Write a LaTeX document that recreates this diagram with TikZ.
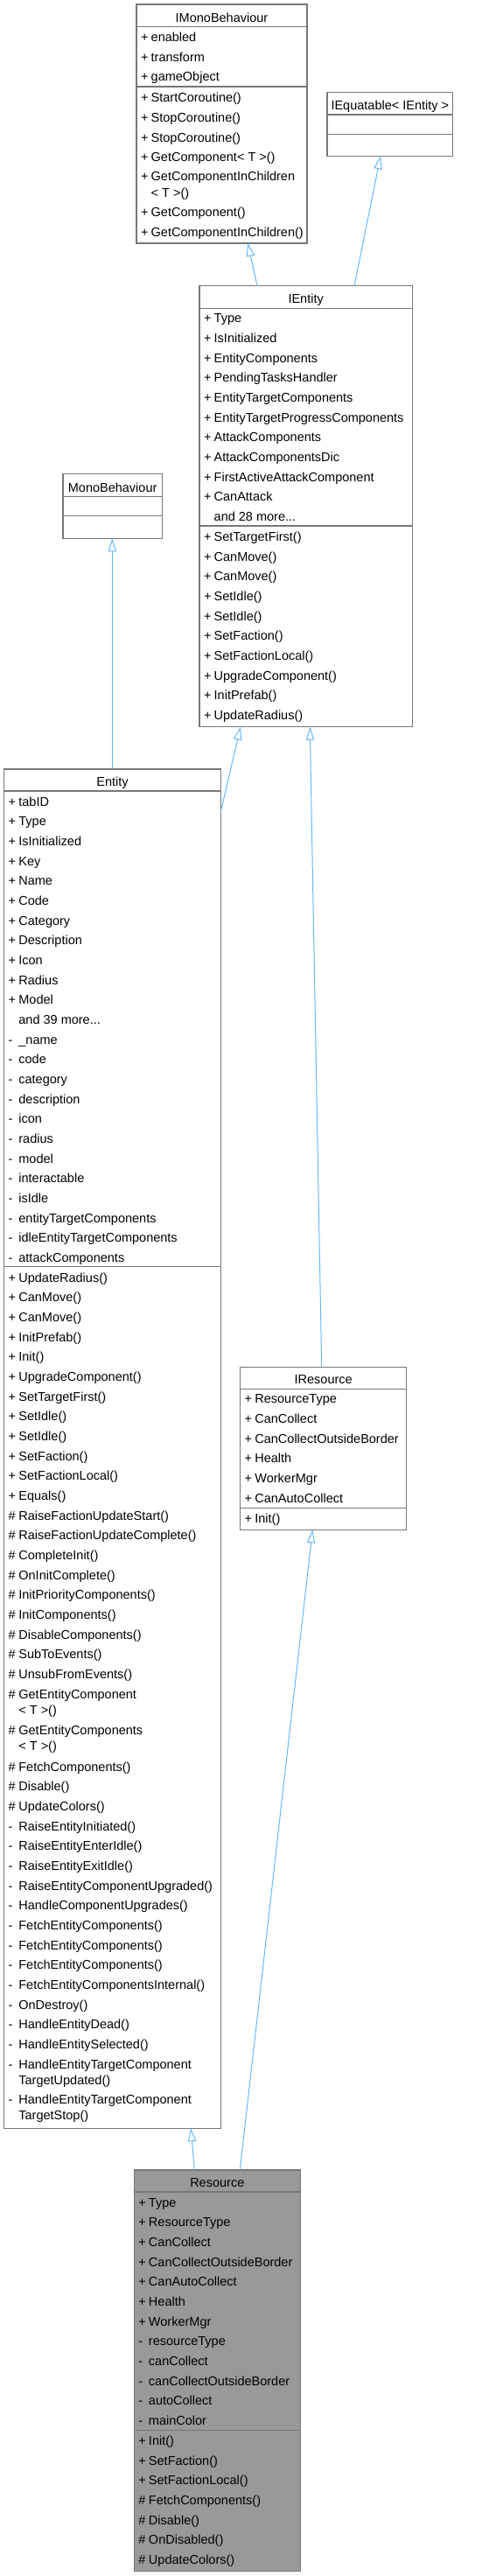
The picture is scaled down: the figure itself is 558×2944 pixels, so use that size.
\documentclass[tikz,border=0pt]{standalone}
\usepackage{fontspec}
\setmainfont{Liberation Sans}
\usetikzlibrary{arrows.meta,calc}
\definecolor{edgeblue}{HTML}{63B8FF}
\definecolor{boxline}{HTML}{777777}
\definecolor{resfill}{HTML}{999999}
\newcounter{rowc}
\newcommand\mrow[4]{\stepcounter{rowc}\node[rowt] (row\therowc) at (#1+5,#2+4.5) {\makebox[11.7pt][l]{#3}#4};}
\newcommand\mtitle[4]{\node[rowt, anchor=base] (#1) at (#2,#3+4.5) {#4};}
\newcommand\mseps[3]{%
  \draw[sepl] ($(#1.north west)+(0,#2)$) -- ($(#1.north east)+(0,#2)$);
  \draw[sepl] ($(#1.north west)+(0,#3)$) -- ($(#1.north east)+(0,#3)$);}
\begin{document}
\begin{tikzpicture}[x=1pt,y=-1pt,
  rowt/.style={anchor=base west, inner sep=0pt, outer sep=0pt, font=\fontsize{14.5pt}{17pt}\selectfont, text=black},
  cls/.style={draw=boxline, line width=1.2pt, fill=white, inner sep=0pt, outer sep=0pt, anchor=north west},
  sepl/.style={draw=boxline, line width=1.2pt},
  inh/.style={draw=edgeblue, line width=1pt, -{Triangle[open, length=15pt, width=9.5pt]}}]
\useasboundingbox (0,0) rectangle (558,2944);

% ---------- boxes ----------
\node[cls, minimum width=195pt, minimum height=273pt] (imono) at (156,5) {};
\mseps{imono}{25.8}{94}
\node[cls, minimum width=143.7pt, minimum height=72.6pt] (iequ) at (374,105.7) {};
\mseps{iequ}{25.3}{47.6}
\node[cls, minimum width=243.3pt, minimum height=504pt] (ient) at (228,326.7) {};
\mseps{ient}{25.6}{274.3}
\node[cls, minimum width=113.3pt, minimum height=73.6pt] (mono) at (72,541.7) {};
\mseps{mono}{25.6}{48}
\node[cls, minimum width=247.6pt, minimum height=1553.3pt] (ent) at (4.7,879) {};
\mseps{ent}{25}{568.7}
\node[cls, minimum width=190pt, minimum height=186pt] (ires) at (274.7,1562.3) {};
\mseps{ires}{25}{161}
\node[cls, fill=resfill, minimum width=190pt, minimum height=458.3pt] (res) at (153.3,2480) {};
\mseps{res}{25}{297.3}

% ---------- IMonoBehaviour ----------
\mtitle{timono}{253.5}{20.7}{IMonoBehaviour}
\mrow{156}{43.3}{+}{enabled}
\mrow{156}{65.8}{+}{transform}
\mrow{156}{88.4}{+}{gameObject}
\mrow{156}{112.3}{+}{StartCoroutine()}
\mrow{156}{134.9}{+}{StopCoroutine()}
\mrow{156}{157.5}{+}{StopCoroutine()}
\mrow{156}{180}{+}{GetComponent< T >()}
\mrow{156}{202.3}{+}{GetComponentInChildren}
\mrow{156}{220.7}{}{< T >()}
\mrow{156}{243.3}{+}{GetComponent()}
\mrow{156}{265.7}{+}{GetComponentInChildren()}

% ---------- IEquatable ----------
\mtitle{tiequ}{445.85}{120.7}{IEquatable< IEntity >}

% ---------- IEntity ----------
\mtitle{tient}{349.65}{341.7}{IEntity}
\mrow{228}{364.3}{+}{Type}
\mrow{228}{387.0}{+}{IsInitialized}
\mrow{228}{409.6}{+}{EntityComponents}
\mrow{228}{432.3}{+}{PendingTasksHandler}
\mrow{228}{455.0}{+}{EntityTargetComponents}
\mrow{228}{477.6}{+}{EntityTargetProgressComponents}
\mrow{228}{500.3}{+}{AttackComponents}
\mrow{228}{523.0}{+}{AttackComponentsDic}
\mrow{228}{545.7}{+}{FirstActiveAttackComponent}
\mrow{228}{568.3}{+}{CanAttack}
\mrow{228}{591.0}{}{and 28 more...}
\mrow{228}{614.0}{+}{SetTargetFirst()}
\mrow{228}{636.7}{+}{CanMove()}
\mrow{228}{659.3}{+}{CanMove()}
\mrow{228}{682.0}{+}{SetIdle()}
\mrow{228}{704.7}{+}{SetIdle()}
\mrow{228}{727.3}{+}{SetFaction()}
\mrow{228}{750.0}{+}{SetFactionLocal()}
\mrow{228}{772.7}{+}{UpgradeComponent()}
\mrow{228}{795.3}{+}{InitPrefab()}
\mrow{228}{818.0}{+}{UpdateRadius()}

% ---------- MonoBehaviour ----------
\mtitle{tmono}{128.65}{557.7}{MonoBehaviour}

% ---------- Entity ----------
\mtitle{tent}{128.5}{893.7}{Entity}
\mrow{4.7}{916.7}{+}{tabID}
\mrow{4.7}{939.4}{+}{Type}
\mrow{4.7}{962.0}{+}{IsInitialized}
\mrow{4.7}{984.7}{+}{Key}
\mrow{4.7}{1007.4}{+}{Name}
\mrow{4.7}{1030.0}{+}{Code}
\mrow{4.7}{1052.7}{+}{Category}
\mrow{4.7}{1075.4}{+}{Description}
\mrow{4.7}{1098.1}{+}{Icon}
\mrow{4.7}{1120.7}{+}{Radius}
\mrow{4.7}{1143.4}{+}{Model}
\mrow{4.7}{1166.1}{}{and 39 more...}
\mrow{4.7}{1188.7}{-}{\_name}
\mrow{4.7}{1211.4}{-}{code}
\mrow{4.7}{1234.1}{-}{category}
\mrow{4.7}{1256.8}{-}{description}
\mrow{4.7}{1279.4}{-}{icon}
\mrow{4.7}{1302.1}{-}{radius}
\mrow{4.7}{1324.8}{-}{model}
\mrow{4.7}{1347.4}{-}{interactable}
\mrow{4.7}{1370.1}{-}{isIdle}
\mrow{4.7}{1392.8}{-}{entityTargetComponents}
\mrow{4.7}{1415.4}{-}{idleEntityTargetComponents}
\mrow{4.7}{1438.1}{-}{attackComponents}
\mrow{4.7}{1460.7}{+}{UpdateRadius()}
\mrow{4.7}{1483.4}{+}{CanMove()}
\mrow{4.7}{1506.0}{+}{CanMove()}
\mrow{4.7}{1528.7}{+}{InitPrefab()}
\mrow{4.7}{1551.4}{+}{Init()}
\mrow{4.7}{1574.1}{+}{UpgradeComponent()}
\mrow{4.7}{1596.7}{+}{SetTargetFirst()}
\mrow{4.7}{1619.4}{+}{SetIdle()}
\mrow{4.7}{1642.1}{+}{SetIdle()}
\mrow{4.7}{1664.7}{+}{SetFaction()}
\mrow{4.7}{1687.4}{+}{SetFactionLocal()}
\mrow{4.7}{1710.1}{+}{Equals()}
\mrow{4.7}{1732.7}{\#}{RaiseFactionUpdateStart()}
\mrow{4.7}{1755.4}{\#}{RaiseFactionUpdateComplete()}
\mrow{4.7}{1778.1}{\#}{CompleteInit()}
\mrow{4.7}{1800.8}{\#}{OnInitComplete()}
\mrow{4.7}{1823.4}{\#}{InitPriorityComponents()}
\mrow{4.7}{1846.1}{\#}{InitComponents()}
\mrow{4.7}{1868.8}{\#}{DisableComponents()}
\mrow{4.7}{1891.4}{\#}{SubToEvents()}
\mrow{4.7}{1914.1}{\#}{UnsubFromEvents()}
\mrow{4.7}{1936.8}{\#}{GetEntityComponent}
\mrow{4.7}{1955.0}{}{< T >()}
\mrow{4.7}{1977.8}{\#}{GetEntityComponents}
\mrow{4.7}{1996.0}{}{< T >()}
\mrow{4.7}{2019.5}{\#}{FetchComponents()}
\mrow{4.7}{2042.2}{\#}{Disable()}
\mrow{4.7}{2064.8}{\#}{UpdateColors()}
\mrow{4.7}{2087.5}{-}{RaiseEntityInitiated()}
\mrow{4.7}{2110.2}{-}{RaiseEntityEnterIdle()}
\mrow{4.7}{2132.8}{-}{RaiseEntityExitIdle()}
\mrow{4.7}{2155.5}{-}{RaiseEntityComponentUpgraded()}
\mrow{4.7}{2178.2}{-}{HandleComponentUpgrades()}
\mrow{4.7}{2200.8}{-}{FetchEntityComponents()}
\mrow{4.7}{2223.5}{-}{FetchEntityComponents()}
\mrow{4.7}{2246.2}{-}{FetchEntityComponents()}
\mrow{4.7}{2268.8}{-}{FetchEntityComponentsInternal()}
\mrow{4.7}{2291.5}{-}{OnDestroy()}
\mrow{4.7}{2314.2}{-}{HandleEntityDead()}
\mrow{4.7}{2336.8}{-}{HandleEntitySelected()}
\mrow{4.7}{2359.5}{-}{HandleEntityTargetComponent}
\mrow{4.7}{2377.7}{}{TargetUpdated()}
\mrow{4.7}{2400.0}{-}{HandleEntityTargetComponent}
\mrow{4.7}{2418.3}{}{TargetStop()}

% ---------- IResource ----------
\mtitle{tires}{369.7}{1577.3}{IResource}
\mrow{274.7}{1599.3}{+}{ResourceType}
\mrow{274.7}{1622.0}{+}{CanCollect}
\mrow{274.7}{1644.6}{+}{CanCollectOutsideBorder}
\mrow{274.7}{1667.3}{+}{Health}
\mrow{274.7}{1690.0}{+}{WorkerMgr}
\mrow{274.7}{1712.7}{+}{CanAutoCollect}
\mrow{274.7}{1735.7}{+}{Init()}

% ---------- Resource ----------
\mtitle{tres}{248.3}{2495}{Resource}
\mrow{153.3}{2517.7}{+}{Type}
\mrow{153.3}{2540.4}{+}{ResourceType}
\mrow{153.3}{2563.0}{+}{CanCollect}
\mrow{153.3}{2585.7}{+}{CanCollectOutsideBorder}
\mrow{153.3}{2608.4}{+}{CanAutoCollect}
\mrow{153.3}{2631.0}{+}{Health}
\mrow{153.3}{2653.7}{+}{WorkerMgr}
\mrow{153.3}{2676.4}{-}{resourceType}
\mrow{153.3}{2699.1}{-}{canCollect}
\mrow{153.3}{2721.7}{-}{canCollectOutsideBorder}
\mrow{153.3}{2744.4}{-}{autoCollect}
\mrow{153.3}{2767.1}{-}{mainColor}
\mrow{153.3}{2790.0}{+}{Init()}
\mrow{153.3}{2812.7}{+}{SetFaction()}
\mrow{153.3}{2835.3}{+}{SetFactionLocal()}
\mrow{153.3}{2858.0}{\#}{FetchComponents()}
\mrow{153.3}{2880.7}{\#}{Disable()}
\mrow{153.3}{2903.3}{\#}{OnDisabled()}
\mrow{153.3}{2926.0}{\#}{UpdateColors()}

% ---------- inheritance connectors ----------
\draw[inh] ($(ient.north west)+(66,0)$) -- ($(imono.south west)+(127.3,0)$);
\draw[inh] ($(ient.north west)+(177,0)$) -- ($(iequ.south west)+(61,0)$);
\draw[inh] ($(ent.north west)+(123.6,0)$) -- ($(mono.south west)+(56.3,0)$);
\draw[inh] ($(ent.north east)+(0,48.7)$) -- ($(ient.south west)+(47,0)$);
\draw[inh] ($(ires.north west)+(93,0)$) -- ($(ient.south west)+(126.3,0)$);
\draw[inh] ($(res.north west)+(69,0)$) -- ($(ent.south west)+(213.6,0)$);
\draw[inh] ($(res.north west)+(121,0)$) -- ($(ires.south west)+(82.6,0)$);
\end{tikzpicture}
\end{document}
